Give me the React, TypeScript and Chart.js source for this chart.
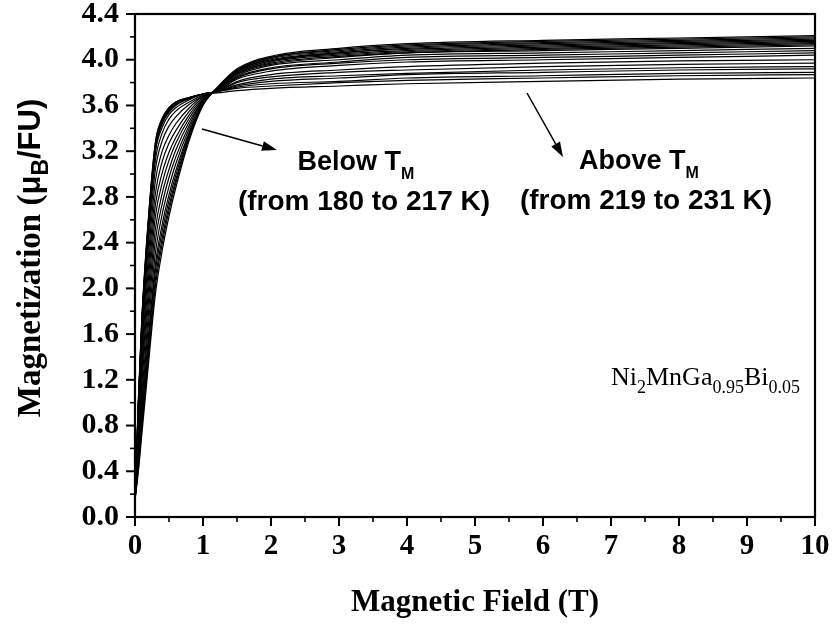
import React, { useEffect, useRef } from 'react';
import { Chart, registerables } from 'chart.js';

Chart.register(...registerables);

// Magnetic field grid (T)
const fieldT = [0, 0.05, 0.1, 0.2, 0.3, 0.4, 0.5, 0.6, 0.8, 1.0, 1.2, 1.5, 2, 3, 4, 6, 8, 10];

// Magnetization (muB/FU) — below TM (180 to 217 K)
const m180 = [0.15, 0.40, 0.72, 1.35, 1.95, 2.33, 2.63, 2.88, 3.30, 3.60, 3.75, 3.92, 4.03, 4.10, 4.14, 4.17, 4.19, 4.21];
const m183 = [0.15, 0.43, 0.77, 1.41, 2.02, 2.39, 2.68, 2.92, 3.32, 3.61, 3.75, 3.91, 4.02, 4.09, 4.13, 4.16, 4.18, 4.20];
const m186 = [0.15, 0.46, 0.82, 1.48, 2.08, 2.44, 2.72, 2.95, 3.34, 3.61, 3.75, 3.91, 4.02, 4.08, 4.12, 4.15, 4.17, 4.19];
const m189 = [0.15, 0.49, 0.87, 1.54, 2.15, 2.50, 2.77, 2.99, 3.36, 3.62, 3.75, 3.90, 4.01, 4.07, 4.11, 4.14, 4.16, 4.18];
const m192 = [0.15, 0.52, 0.92, 1.60, 2.21, 2.56, 2.82, 3.03, 3.37, 3.62, 3.74, 3.90, 4.00, 4.06, 4.10, 4.13, 4.15, 4.17];
const m195 = [0.15, 0.57, 0.99, 1.70, 2.31, 2.65, 2.89, 3.09, 3.40, 3.63, 3.74, 3.89, 3.99, 4.06, 4.09, 4.12, 4.14, 4.16];
const m198 = [0.15, 0.62, 1.07, 1.80, 2.42, 2.74, 2.97, 3.15, 3.43, 3.64, 3.74, 3.89, 3.99, 4.05, 4.08, 4.11, 4.13, 4.15];
const m201 = [0.15, 0.66, 1.15, 1.90, 2.52, 2.83, 3.04, 3.21, 3.46, 3.64, 3.74, 3.88, 3.98, 4.04, 4.07, 4.10, 4.12, 4.14];
const m204 = [0.15, 0.71, 1.23, 2.00, 2.63, 2.92, 3.12, 3.27, 3.49, 3.65, 3.73, 3.88, 3.97, 4.03, 4.06, 4.09, 4.11, 4.13];
const m207 = [0.15, 0.76, 1.31, 2.10, 2.73, 3.01, 3.19, 3.32, 3.52, 3.66, 3.73, 3.87, 3.96, 4.02, 4.06, 4.08, 4.10, 4.12];
const m210 = [0.15, 0.81, 1.39, 2.20, 2.83, 3.11, 3.27, 3.38, 3.55, 3.67, 3.73, 3.86, 3.95, 4.00, 4.04, 4.06, 4.08, 4.10];
const m213 = [0.15, 0.86, 1.47, 2.30, 2.94, 3.20, 3.34, 3.44, 3.58, 3.68, 3.73, 3.85, 3.93, 3.98, 4.02, 4.04, 4.06, 4.08];
const m215 = [0.15, 0.90, 1.54, 2.40, 3.04, 3.29, 3.42, 3.50, 3.61, 3.68, 3.72, 3.84, 3.92, 3.97, 4.00, 4.02, 4.04, 4.06];
const m217 = [0.15, 0.94, 1.60, 2.48, 3.12, 3.36, 3.48, 3.55, 3.63, 3.69, 3.72, 3.83, 3.90, 3.95, 3.98, 4.00, 4.02, 4.04];
// above TM (219 to 231 K)
const m219 = [0.15, 0.97, 1.65, 2.54, 3.19, 3.41, 3.52, 3.58, 3.65, 3.70, 3.72, 3.81, 3.87, 3.91, 3.94, 3.97, 3.99, 4.00];
const m221 = [0.15, 0.98, 1.67, 2.56, 3.21, 3.44, 3.54, 3.60, 3.66, 3.70, 3.72, 3.80, 3.85, 3.89, 3.91, 3.94, 3.96, 3.97];
const m223 = [0.15, 0.99, 1.68, 2.58, 3.22, 3.45, 3.55, 3.61, 3.66, 3.70, 3.72, 3.78, 3.83, 3.86, 3.88, 3.91, 3.93, 3.94];
const m225 = [0.15, 0.99, 1.69, 2.59, 3.24, 3.46, 3.56, 3.61, 3.67, 3.70, 3.72, 3.77, 3.81, 3.84, 3.87, 3.89, 3.91, 3.92];
const m227 = [0.15, 1.00, 1.70, 2.60, 3.25, 3.47, 3.57, 3.62, 3.67, 3.70, 3.72, 3.76, 3.79, 3.81, 3.84, 3.86, 3.88, 3.89];
const m229 = [0.15, 1.02, 1.72, 2.62, 3.27, 3.48, 3.58, 3.63, 3.67, 3.70, 3.72, 3.75, 3.77, 3.80, 3.82, 3.84, 3.86, 3.87];
const m231 = [0.15, 1.04, 1.74, 2.64, 3.28, 3.49, 3.58, 3.63, 3.67, 3.70, 3.71, 3.73, 3.75, 3.77, 3.79, 3.81, 3.83, 3.84];

const temperaturesK = [180, 183, 186, 189, 192, 195, 198, 201, 204, 207, 210, 213, 215, 217, 219, 221, 223, 225, 227, 229, 231];
const curves = [m180, m183, m186, m189, m192, m195, m198, m201, m204, m207, m210, m213, m215, m217, m219, m221, m223, m225, m227, m229, m231];

const xTickValues = [0, 1, 2, 3, 4, 5, 6, 7, 8, 9, 10];
const yTickValues = [0, 0.4, 0.8, 1.2, 1.6, 2.0, 2.4, 2.8, 3.2, 3.6, 4.0, 4.4];

const SERIF = '"Liberation Serif", "Times New Roman", serif';
const SANS = '"Liberation Sans", Arial, sans-serif';

type Run = { text: string; font: string; dy?: number };

function runsWidth(ctx: CanvasRenderingContext2D, runs: Run[]) {
  let w = 0;
  for (const r of runs) {
    ctx.font = r.font;
    w += ctx.measureText(r.text).width;
  }
  return w;
}

function drawRuns(ctx: CanvasRenderingContext2D, x: number, y: number, runs: Run[]) {
  let cx = x;
  ctx.textAlign = 'left';
  ctx.textBaseline = 'alphabetic';
  for (const r of runs) {
    ctx.font = r.font;
    ctx.fillText(r.text, cx, y + (r.dy || 0));
    cx += ctx.measureText(r.text).width;
  }
}

function arrow(ctx: CanvasRenderingContext2D, x1: number, y1: number, x2: number, y2: number) {
  const ang = Math.atan2(y2 - y1, x2 - x1);
  const hl = 15;
  const hw = 5;
  const bx = x2 - hl * Math.cos(ang);
  const by = y2 - hl * Math.sin(ang);
  ctx.beginPath();
  ctx.moveTo(x1, y1);
  ctx.lineTo(bx, by);
  ctx.lineWidth = 1.5;
  ctx.stroke();
  ctx.beginPath();
  ctx.moveTo(x2, y2);
  ctx.lineTo(bx + hw * Math.sin(ang), by - hw * Math.cos(ang));
  ctx.lineTo(bx - hw * Math.sin(ang), by + hw * Math.cos(ang));
  ctx.closePath();
  ctx.fill();
}

const decorPlugin = {
  id: 'decor',
  afterDraw(chart: any) {
    const { ctx, chartArea: a, scales } = chart;
    const xs = scales.x;
    const ys = scales.y;
    ctx.save();
    ctx.strokeStyle = '#000';
    ctx.fillStyle = '#000';
    // ticks (outward)
    for (let i = 0; i <= 20; i++) {
      const px = xs.getPixelForValue(i * 0.5);
      const major = i % 2 === 0;
      ctx.lineWidth = major ? 2 : 1.6;
      ctx.beginPath();
      ctx.moveTo(px, a.bottom);
      ctx.lineTo(px, a.bottom + (major ? 9 : 5));
      ctx.stroke();
    }
    for (let i = 0; i <= 22; i++) {
      const py = ys.getPixelForValue(i * 0.2);
      const major = i % 2 === 0;
      ctx.lineWidth = major ? 2 : 1.6;
      ctx.beginPath();
      ctx.moveTo(a.left, py);
      ctx.lineTo(a.left - (major ? 9 : 5), py);
      ctx.stroke();
    }
    // frame
    ctx.lineWidth = 2.2;
    ctx.strokeRect(a.left, a.top, a.right - a.left, a.bottom - a.top);

    // x-axis title
    ctx.font = `bold 31px ${SERIF}`;
    ctx.textAlign = 'center';
    ctx.textBaseline = 'alphabetic';
    ctx.fillText('Magnetic Field (T)', (a.left + a.right) / 2, 611);

    // y-axis title (rotated)
    const yRuns: Run[] = [
      { text: 'Magnetization (', font: `bold 33px ${SERIF}` },
      { text: 'μ', font: `bold 31px ${SANS}` },
      { text: 'B', font: `bold 23px ${SANS}`, dy: 8 },
      { text: '/FU)', font: `bold 31px ${SANS}` },
    ];
    ctx.save();
    ctx.translate(40, 258);
    ctx.rotate(-Math.PI / 2);
    const yw = runsWidth(ctx, yRuns);
    drawRuns(ctx, -yw / 2, 0, yRuns);
    ctx.restore();

    // annotations
    const big = `bold 27px ${SANS}`;
    const line2 = `bold 28px ${SANS}`;
    const sub = `bold 16px ${SANS}`;
    const below: Run[] = [{ text: 'Below T', font: big }, { text: 'M', font: sub, dy: 9 }];
    const bw = runsWidth(ctx, below);
    drawRuns(ctx, 356 - bw / 2, 170, below);
    ctx.font = line2;
    ctx.textAlign = 'center';
    ctx.fillText('(from 180 to 217 K)', 364, 210);

    const above: Run[] = [{ text: 'Above T', font: big }, { text: 'M', font: sub, dy: 9 }];
    const aw = runsWidth(ctx, above);
    drawRuns(ctx, 639 - aw / 2, 169, above);
    ctx.font = line2;
    ctx.textAlign = 'center';
    ctx.fillText('(from 219 to 231 K)', 646, 209);

    arrow(ctx, 202, 129, 277, 150);
    arrow(ctx, 527, 93, 563, 157);

    // compound formula
    const mainF = `26px ${SERIF}`;
    const subF = `18px ${SERIF}`;
    const formula: Run[] = [
      { text: 'Ni', font: mainF },
      { text: '2', font: subF, dy: 8 },
      { text: 'MnGa', font: mainF },
      { text: '0.95', font: subF, dy: 8 },
      { text: 'Bi', font: mainF },
      { text: '0.05', font: subF, dy: 8 },
    ];
    const fw = runsWidth(ctx, formula);
    drawRuns(ctx, 800 - fw, 385, formula);
    ctx.restore();
  },
};

export default function App() {
  const ref = useRef<HTMLCanvasElement | null>(null);
  useEffect(() => {
    if (!ref.current) return;
    const datasets = curves.map((m, k) => ({
      label: `${temperaturesK[k]} K`,
      data: fieldT.map((h, i) => ({ x: h, y: m[i] })),
      borderColor: '#000',
      borderWidth: 1.2,
      pointRadius: 0,
      fill: false,
      cubicInterpolationMode: 'monotone' as const,
    }));
    const chart = new Chart(ref.current, {
      type: 'line',
      data: { datasets },
      options: {
        responsive: false,
        animation: false,
        layout: { autoPadding: false, padding: { left: 0, right: 20, top: 14, bottom: 0 } },
        plugins: { legend: { display: false }, tooltip: { enabled: false } },
        scales: {
          x: {
            type: 'linear',
            min: 0,
            max: 10,
            grid: { display: false, drawTicks: false },
            border: { display: false },
            afterFit: (s: any) => {
              s.height = 111;
              s.paddingLeft = 0; s.paddingRight = 0; s.paddingTop = 0; s.paddingBottom = 0;
            },
            afterBuildTicks: (s: any) => { s.ticks = xTickValues.map((v) => ({ value: v })); },
            ticks: {
              padding: 15,
              color: '#000',
              maxRotation: 0,
              font: { family: SERIF, size: 29, weight: 'bold', lineHeight: 1 },
              callback: (v: any) => String(v),
            },
          },
          y: {
            type: 'linear',
            min: 0,
            max: 4.4,
            grid: { display: false, drawTicks: false },
            border: { display: false },
            afterFit: (s: any) => {
              s.width = 135;
              s.paddingLeft = 0; s.paddingRight = 0; s.paddingTop = 0; s.paddingBottom = 0;
            },
            afterBuildTicks: (s: any) => { s.ticks = yTickValues.map((v) => ({ value: v })); },
            ticks: {
              padding: 16,
              color: '#000',
              font: { family: SERIF, size: 30, weight: 'bold', lineHeight: 1 },
              callback: (v: any) => Number(v).toFixed(1),
            },
          },
        },
      },
      plugins: [decorPlugin],
    });
    return () => chart.destroy();
  }, []);
  return (
    <div style={{ position: 'fixed', left: 0, top: 0, width: 835, height: 628, background: '#fff' }}>
      <canvas ref={ref} width={835} height={628} style={{ display: 'block' }} />
    </div>
  );
}
